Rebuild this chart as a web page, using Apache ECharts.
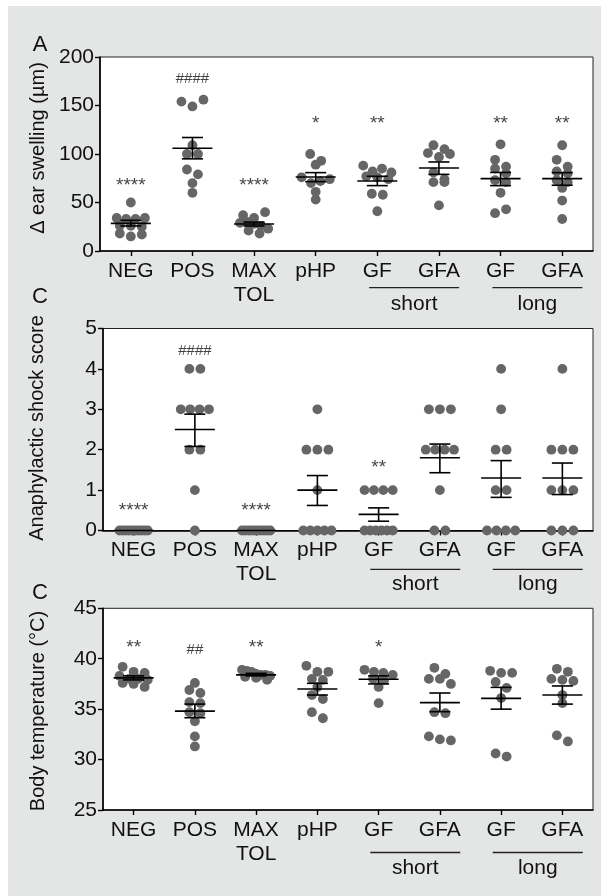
<!DOCTYPE html>
<html><head><meta charset="utf-8">
<script src="https://cdn.jsdelivr.net/npm/echarts@6/dist/echarts.min.js"></script>
<style>
html,body{margin:0;padding:0;background:#fff;}
#bg{position:absolute;left:8px;top:6px;width:593px;height:890px;background:#e4e6e5;}
#chart{position:absolute;left:0;top:0;width:601px;height:896px;}
</style></head><body><div id="bg"></div><div id="chart"></div>
<script>
// ---------- data ----------
const categories = ['NEG', 'POS', 'MAX\nTOL', 'pHP', 'GF', 'GFA', 'GF', 'GFA'];
const groupLabels = ['short', 'long'];

// Panel A: Δ ear swelling (µm)
const earTicks = [0, 50, 100, 150, 200];
const earNEG  = [50, 34, 33, 33, 34, 26, 26, 25, 18, 15, 17];
const earPOS  = [154, 149, 156, 109, 100, 100, 84, 79, 70, 60];
const earMAX  = [37, 34, 40, 29, 30, 28, 26, 23, 21, 18];
const earPHP  = [100, 89, 93, 76, 70, 72, 74, 61, 53];
const earGFs  = [88, 82, 85, 81, 77, 76, 74, 59, 58, 41];
const earGFAs = [109, 101, 97, 100, 105, 81, 71, 71, 74, 47];
const earGFl  = [110, 94, 85, 87, 80, 73, 71, 60, 39, 43];
const earGFAl = [109, 94, 82, 87, 80, 73, 71, 65, 52, 33];
const earMean = [28.5, 106, 27.9, 76.3, 72.2, 85.6, 74.6, 74.6];
const earLo   = [25.8, 95, 25.8, 71.5, 67.4, 79, 67.4, 67.8];
const earHi   = [31.6, 117, 29.8, 80.8, 77, 91.8, 81, 80.8];
const earSig  = ['****', '####', '****', '*', '**', '', '**', '**'];
const earSigY = [67, 177.7, 67, 131, 131, 0, 131, 131];

// Panel B: anaphylactic shock score
const scoreTicks = [0, 1, 2, 3, 4, 5];
const scNEG  = [0, 0, 0, 0, 0, 0, 0, 0, 0, 0];
const scPOS  = [4, 4, 3, 3, 3, 3, 2, 2, 1, 0];
const scMAX  = [0, 0, 0, 0, 0, 0, 0, 0, 0, 0];
const scPHP  = [3, 2, 2, 2, 1, 0, 0, 0, 0, 0];
const scGFs  = [1, 1, 1, 1, 0, 0, 0, 0, 0, 0];
const scGFAs = [3, 3, 3, 2, 2, 2, 2, 1, 0, 0];
const scGFl  = [4, 3, 2, 2, 1, 1, 0, 0, 0, 0];
const scGFAl = [4, 2, 2, 2, 1, 1, 1, 0, 0, 0];
const scMean = [0, 2.5, 0, 1.0, 0.4, 1.8, 1.3, 1.3];
const scLo   = [0, 2.08, 0, 0.62, 0.23, 1.43, 0.82, 0.89];
const scHi   = [0, 2.88, 0, 1.36, 0.56, 2.14, 1.73, 1.67];
const scSig  = ['****', '####', '****', '', '**', '', '', ''];
const scSigY = [0.5, 4.45, 0.5, 0, 1.55, 0, 0, 0];

// Panel C: body temperature (°C)
const tempTicks = [25, 30, 35, 40, 45];
const tNEG  = [39.2, 38.7, 38.6, 38.3, 38.0, 38.0, 37.9, 37.6, 37.5, 37.2];
const tPOS  = [36.9, 36.6, 37.6, 35.7, 35.6, 34.7, 34.6, 33.8, 32.3, 31.3];
const tMAX  = [38.9, 38.8, 38.7, 38.5, 38.4, 38.4, 38.3, 38.2, 38.1, 37.9];
const tPHP  = [39.3, 38.7, 38.7, 38.0, 37.9, 37.2, 36.4, 36.0, 34.7, 34.1];
const tGFs  = [38.9, 38.7, 38.6, 38.4, 38.0, 37.9, 37.2, 35.6];
const tGFAs = [39.1, 38.5, 38.0, 38.0, 37.5, 34.7, 34.6, 32.3, 32.0, 31.9];
const tGFl  = [38.8, 38.6, 38.6, 37.7, 37.1, 36.1, 30.6, 30.3];
const tGFAl = [39.0, 38.7, 38.0, 37.9, 37.8, 36.4, 35.6, 32.4, 31.8];
const tMean = [38.1, 34.8, 38.4, 37.0, 37.96, 35.65, 36.07, 36.4];
const tLo   = [37.9, 34.15, 38.3, 36.4, 37.5, 34.75, 35.0, 35.5];
const tHi   = [38.3, 35.5, 38.55, 37.56, 38.3, 36.6, 37.16, 37.3];
const tSig  = ['**', '##', '**', '', '*', '', '', ''];
const tSigY = [41.1, 40.9, 41.1, 0, 41.1, 0, 0, 0];

// ---------- layout / style ----------
const FONT = "'Liberation Sans Narrow', 'Arial Narrow', 'Liberation Sans', Arial, sans-serif";
const DOT_R = 4.9, DOT_COLOR = '#666666';
const SPACING = 11, MAX_W = 38, BIN_H = 7;
const MEAN_HW = 20, CAP_HW = 10.5;

const panels = [
  { groups: [earNEG, earPOS, earMAX, earPHP, earGFs, earGFAs, earGFl, earGFAl], mean: earMean, lo: earLo, hi: earHi,
    sig: earSig, sigY: earSigY, ticks: earTicks, title: 'Δ ear swelling (µm)', letter: 'A',
    grid: { left: 100, top: 57, width: 493, height: 194 }, titleX: 38, titleY: 148, letterY: 45,
    lineDy: 36.6, textDy: 53 },
  { groups: [scNEG, scPOS, scMAX, scPHP, scGFs, scGFAs, scGFl, scGFAl], mean: scMean, lo: scLo, hi: scHi,
    sig: scSig, sigY: scSigY, ticks: scoreTicks, title: 'Anaphylactic shock score', letter: 'C',
    grid: { left: 103, top: 328.5, width: 490, height: 202 }, titleX: 37, titleY: 428, letterY: 297,
    lineDy: 38.8, textDy: 53.5 },
  { groups: [tNEG, tPOS, tMAX, tPHP, tGFs, tGFAs, tGFl, tGFAl], mean: tMean, lo: tLo, hi: tHi,
    sig: tSig, sigY: tSigY, ticks: tempTicks, title: 'Body temperature (°C)', letter: 'C',
    grid: { left: 103, top: 608.3, width: 490, height: 201.7 }, titleX: 38, titleY: 711, letterY: 593,
    lineDy: 42.5, textDy: 58.5 }
];

function swarm(ys) {
  const order = ys.map((y, i) => i).sort((a, b) => (ys[a] - ys[b]) || (a - b));
  const off = new Array(ys.length).fill(0);
  let i = 0;
  while (i < order.length) {
    const start = ys[order[i]];
    const bin = [];
    let j = i;
    while (j < order.length && ys[order[j]] - start < BIN_H) { bin.push(order[j]); j++; }
    bin.sort((a, b) => a - b);
    const n = bin.length;
    const sp = n > 1 ? Math.min(SPACING, (MAX_W - 2 * DOT_R) / (n - 1)) : 0;
    bin.forEach((k, m) => { off[k] = (m - (n - 1) / 2) * sp; });
    i = j;
  }
  return off;
}

function dotsRender(groups) {
  const cache = {};
  return function (params, api) {
    const cat = api.value(0), idx = api.value(2);
    const vals = groups[cat];
    const ys = vals.map(v => api.coord([cat, v])[1]);
    const key = cat + ':' + ys.map(y => y.toFixed(2)).join(',');
    if (!cache[key]) cache[key] = swarm(ys);
    const c = api.coord([cat, vals[idx]]);
    return { type: 'circle', shape: { cx: c[0] + cache[key][idx], cy: c[1], r: DOT_R }, style: { fill: DOT_COLOR } };
  };
}

function errRender(params, api) {
  const cat = api.value(0);
  const m = api.coord([cat, api.value(1)]);
  const lo = api.coord([cat, api.value(2)]);
  const hi = api.coord([cat, api.value(3)]);
  const st = { stroke: '#000', lineWidth: 1.6 };
  const x = m[0];
  const ch = [
    { type: 'line', shape: { x1: x - MEAN_HW, y1: m[1], x2: x + MEAN_HW, y2: m[1] }, style: st }
  ];
  if (Math.abs(hi[1] - lo[1]) > 0.5) {
    ch.push({ type: 'line', shape: { x1: x, y1: lo[1], x2: x, y2: hi[1] }, style: st });
    ch.push({ type: 'line', shape: { x1: x - CAP_HW, y1: lo[1], x2: x + CAP_HW, y2: lo[1] }, style: st });
    ch.push({ type: 'line', shape: { x1: x - CAP_HW, y1: hi[1], x2: x + CAP_HW, y2: hi[1] }, style: st });
  }
  return { type: 'group', children: ch };
}

const grids = [], xAxes = [], yAxes = [], series = [];
panels.forEach((p, i) => {
  grids.push(Object.assign({ show: true, backgroundColor: '#ffffff', borderColor: '#222', borderWidth: 1 }, p.grid));
  xAxes.push({
    type: 'category', gridIndex: i, data: categories, boundaryGap: true,
    axisLine: { show: true, lineStyle: { color: '#000', width: 1.6 } },
    axisTick: { show: true, alignWithLabel: true, length: 5, lineStyle: { color: '#000', width: 1.4 } },
    axisLabel: { color: '#111', fontSize: 21, fontFamily: FONT, margin: 8, lineHeight: 24, interval: 0 },
    splitLine: { show: false }
  });
  yAxes.push({
    type: 'value', gridIndex: i, min: p.ticks[0], max: p.ticks[p.ticks.length - 1],
    interval: p.ticks[1] - p.ticks[0],
    axisLine: { show: true, lineStyle: { color: '#000', width: 1.6 } },
    axisTick: { show: true, length: 5, lineStyle: { color: '#000', width: 1.4 } },
    axisLabel: { color: '#111', fontSize: 21, fontFamily: FONT, margin: 6 },
    splitLine: { show: false }
  });
  const dotData = [];
  p.groups.forEach((g, c) => g.forEach((v, k) => dotData.push([c, v, k])));
  series.push({ type: 'custom', xAxisIndex: i, yAxisIndex: i, data: dotData, renderItem: dotsRender(p.groups), z: 3, silent: true });
  series.push({ type: 'custom', xAxisIndex: i, yAxisIndex: i, z: 4, silent: true,
    data: categories.map((c, k) => [k, p.mean[k], p.lo[k], p.hi[k]]), renderItem: errRender });
  const sigData = [];
  p.sig.forEach((s, k) => {
    if (s) sigData.push({ name: s, value: [k, p.sigY[k]],
      label: { fontSize: s.indexOf('#') >= 0 ? 15 : 19 } });
  });
  series.push({ type: 'scatter', xAxisIndex: i, yAxisIndex: i, symbolSize: 1, itemStyle: { color: 'rgba(0,0,0,0)' }, z: 5, silent: true,
    data: sigData,
    label: { show: true, position: 'inside', formatter: '{b}', color: '#111', fontSize: 19, fontFamily: FONT } });
});

const chart = echarts.init(document.getElementById('chart'), null, { renderer: 'canvas' });
chart.setOption({
  animation: false,
  backgroundColor: 'transparent',
  textStyle: { fontFamily: FONT },
  grid: grids, xAxis: xAxes, yAxis: yAxes, series: series
});

// annotations: panel letters, axis titles, group underlines
const graphics = [];
panels.forEach((p, i) => {
  graphics.push({ type: 'text', x: 40, y: p.letterY, style: { text: p.letter, font: '22px ' + FONT, fill: '#111', textAlign: 'center', textVerticalAlign: 'middle' } });
  graphics.push({ type: 'text', x: p.titleX, y: p.titleY, rotation: Math.PI / 2,
    style: { text: p.title, font: '20px ' + FONT, fill: '#111', textAlign: 'center', textVerticalAlign: 'middle' } });
  const bottom = p.grid.top + p.grid.height;
  [[4, 5], [6, 7]].forEach((pair, gi) => {
    const a = chart.convertToPixel({ xAxisIndex: i }, pair[0]);
    const b = chart.convertToPixel({ xAxisIndex: i }, pair[1]);
    const cx = (a + b) / 2 + 6;
    graphics.push({ type: 'line', shape: { x1: cx - 45, y1: bottom + p.lineDy, x2: cx + 45, y2: bottom + p.lineDy }, style: { stroke: '#222', lineWidth: 1.3 } });
    graphics.push({ type: 'text', x: cx, y: bottom + p.textDy, style: { text: groupLabels[gi], font: '21px ' + FONT, fill: '#111', textAlign: 'center', textVerticalAlign: 'middle' } });
  });
});
chart.setOption({ graphic: graphics });
</script></body></html>
